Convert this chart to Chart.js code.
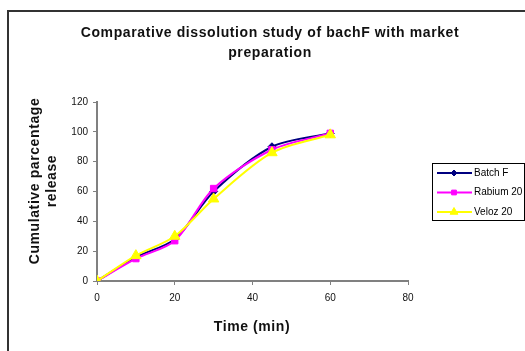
<!DOCTYPE html>
<html>
<head>
<meta charset="utf-8">
<script src="https://cdn.jsdelivr.net/npm/chart.js@4.4.1/dist/chart.umd.min.js"></script>
<style>
  html, body { margin: 0; padding: 0; background: #fff; }
  #wrap { width: 525px; height: 351px; position: relative; }
</style>
</head>
<body>
<div id="wrap"><canvas id="myChart" width="525" height="351"></canvas></div>
<script>
// time points (min)
var times = [0, 10, 20, 30, 45, 60];
var batchF = [0, 16, 28, 60, 90, 99];
var rabium20 = [0, 15, 27, 62, 88, 99];
var veloz20 = [0, 17, 30, 55, 86, 98];
var seriesNames = ['Batch F', 'Rabium 20', 'Veloz 20'];

function pts(vals) {
    return times.map(function (t, i) { return { x: t, y: vals[i] }; });
}

var FONT = '"Liberation Sans", Arial, sans-serif';

// border, titles and legend box drawn on the canvas
var extras = {
    id: 'extras',
    afterDraw: function (chart) {
        var ctx = chart.ctx;
        ctx.save();
        // outer frame (left + top only visible)
        ctx.strokeStyle = '#333';
        ctx.lineWidth = 2;
        ctx.beginPath();
        ctx.moveTo(8, 351);
        ctx.lineTo(8, 11);
        ctx.lineTo(525, 11);
        ctx.stroke();

        // main title
        ctx.fillStyle = '#111';
        ctx.textAlign = 'center';
        ctx.textBaseline = 'middle';
        ctx.letterSpacing = '0.6px';
        ctx.font = 'bold 14px ' + FONT;
        ctx.fillText('Comparative dissolution study of bachF with market', 270, 33);
        ctx.fillText('preparation', 270, 53);

        // x title
        ctx.fillText('Time (min)', 252, 327);

        // y title
        ctx.save();
        ctx.translate(35, 181);
        ctx.rotate(-Math.PI / 2);
        ctx.fillText('Cumulative parcentage', 0, 0);
        ctx.fillText('release', 0, 17);
        ctx.restore();
        ctx.letterSpacing = '0px';

        // legend
        ctx.strokeStyle = '#000';
        ctx.lineWidth = 1;
        ctx.strokeRect(432.5, 163.5, 92, 57);
        ctx.font = '10px ' + FONT;
        ctx.textAlign = 'left';
        chart.data.datasets.forEach(function (ds, i) {
            var y = 173 + i * 19.5;
            ctx.strokeStyle = ds.borderColor;
            ctx.fillStyle = ds.backgroundColor;
            ctx.lineWidth = 2;
            ctx.beginPath();
            ctx.moveTo(437, y);
            ctx.lineTo(472, y);
            ctx.stroke();
            ctx.lineWidth = 1;
            Chart.helpers.drawPoint(ctx, {
                pointStyle: ds.pointStyle,
                radius: ds.pointRadius * 0.75,
                rotation: 0,
                borderWidth: 1
            }, 454, y);
            ctx.fillStyle = '#000';
            ctx.fillText(ds.label, 474, y);
        });
        ctx.restore();
    }
};

function ds(label, vals, color, style, radius, order) {
    return {
        label: label,
        data: pts(vals),
        borderColor: color,
        backgroundColor: color,
        pointBackgroundColor: color,
        pointBorderColor: color,
        pointStyle: style,
        pointRadius: radius,
        pointBorderWidth: 1,
        borderWidth: 2,
        tension: 0.3,
        order: order
    };
}

var axisCommon = {
    type: 'linear',
    grid: { drawOnChartArea: false, drawTicks: true, tickLength: 4, color: '#808080', lineWidth: 1 },
    border: { color: '#808080', width: 2 },
    ticks: { color: '#111', font: { size: 10, family: FONT } }
};

const config = {
    type: 'line',
    data: {
        datasets: [
            ds(seriesNames[0], batchF, '#000080', 'rectRot', 4, 3),
            ds(seriesNames[1], rabium20, '#FF00FF', 'rect', 4.5, 2),
            ds(seriesNames[2], veloz20, '#FFFF00', 'triangle', 6, 1)
        ]
    },
    options: {
        responsive: false,
        animation: false,
        layout: { padding: { left: 0, top: 102, right: 117, bottom: 0 } },
        plugins: { legend: { display: false }, title: { display: false }, tooltip: { enabled: false } },
        scales: {
            x: Object.assign({}, axisCommon, {
                min: 0, max: 80,
                ticks: Object.assign({}, axisCommon.ticks, { stepSize: 20, maxRotation: 0, padding: 7 }),
                afterFit: function (s) { s.height = 70; }
            }),
            y: Object.assign({}, axisCommon, {
                min: 0, max: 120,
                ticks: Object.assign({}, axisCommon.ticks, { stepSize: 20, padding: 5 }),
                afterFit: function (s) { s.width = 97; }
            })
        }
    },
    plugins: [extras]
};

const myChart = new Chart(document.getElementById('myChart'), config);
</script>
</body>
</html>
